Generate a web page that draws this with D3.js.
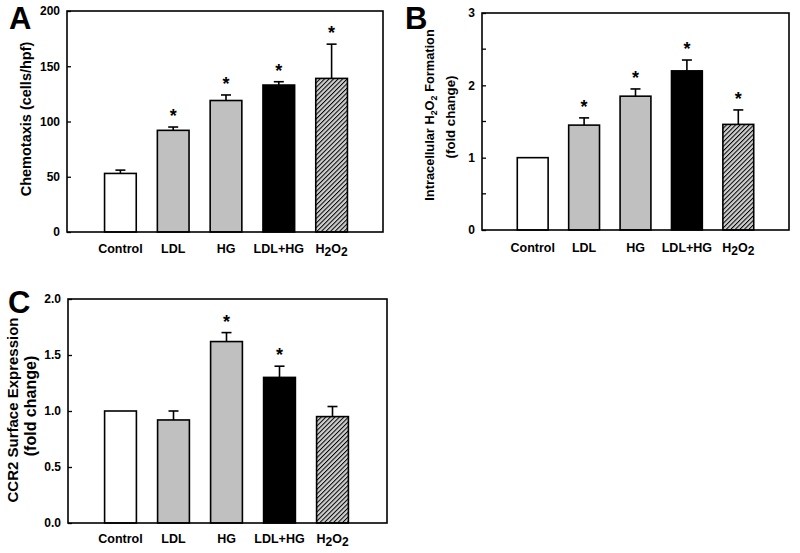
<!DOCTYPE html>
<html>
<head>
<meta charset="utf-8">
<script src="https://cdn.jsdelivr.net/npm/d3@7"></script>
<style>
  body { margin: 0; background: #fff; }
  svg { display: block; font-family: Arial, "Liberation Sans", sans-serif; font-weight: bold; }
</style>
</head>
<body>
<svg id="chart" width="800" height="553"></svg>
<script>
// ---- data ----
const categories = ["Control", "LDL", "HG", "LDL+HG", "H2O2"];
const fills = ["white", "grey", "grey", "black", "hatch"];

const chemotaxisMean = [53, 92, 119, 133, 139];
const chemotaxisErr  = [3, 3, 5, 3, 31];
const chemotaxisSig  = [false, true, true, true, true];
const chemotaxisTicks = [0, 50, 100, 150, 200];

const h2o2Mean = [1.0, 1.45, 1.85, 2.2, 1.46];
const h2o2Err  = [0, 0.10, 0.10, 0.15, 0.20];
const h2o2Sig  = [false, true, true, true, true];
const h2o2Ticks = [0, 1, 2, 3];
const h2o2MinorTicks = [0.5, 1.5, 2.5];

const ccr2Mean = [1.0, 0.92, 1.62, 1.30, 0.95];
const ccr2Err  = [0, 0.08, 0.08, 0.10, 0.09];
const ccr2Sig  = [false, false, true, true, false];
const ccr2Ticks = [0, 0.5, 1.0, 1.5, 2.0];

const svg = d3.select("#chart");
const defs = svg.append("defs");
const pat = defs.append("pattern")
  .attr("id", "hatch").attr("patternUnits", "userSpaceOnUse")
  .attr("width", 3.2).attr("height", 3.2)
  .attr("patternTransform", "rotate(45)");
pat.append("rect").attr("width", 3.2).attr("height", 3.2).attr("fill", "#cfcfcf");
pat.append("line").attr("x1", 0).attr("y1", 0).attr("x2", 0).attr("y2", 3.2)
  .attr("stroke", "#000").attr("stroke-width", 2);

const fillColor = { white: "#ffffff", grey: "#c0c0c0", black: "#000000", hatch: "url(#hatch)" };

function addCatLabel(sel, d) {
  if (d === "H2O2") {
    sel.append("tspan").text("H");
    sel.append("tspan").attr("dy", 3).attr("font-size", "12px").text("2");
    sel.append("tspan").attr("dy", -3).text("O");
    sel.append("tspan").attr("dy", 3).attr("font-size", "12px").text("2");
  } else {
    sel.text(d);
  }
}

function panel(opts) {
  const g = svg.append("g");
  const x = d3.scaleBand().domain(categories)
    .range(opts.bandRange).paddingInner(0.4).paddingOuter(0.2);
  const y = d3.scaleLinear().domain(opts.domain).range([opts.y1, opts.y0]);

  // bars
  g.selectAll("rect.bar").data(categories).join("rect")
    .attr("class", "bar")
    .attr("x", d => x(d))
    .attr("width", x.bandwidth())
    .attr("y", (d, i) => y(opts.mean[i]))
    .attr("height", (d, i) => y(opts.domain[0]) - y(opts.mean[i]))
    .attr("fill", (d, i) => fillColor[fills[i]])
    .attr("stroke", "#000").attr("stroke-width", 1.6);

  // error bars
  categories.forEach((d, i) => {
    if (opts.err[i] <= 0) return;
    const cx = x(d) + x.bandwidth() / 2;
    g.append("line").attr("x1", cx).attr("x2", cx)
      .attr("y1", y(opts.mean[i])).attr("y2", y(opts.mean[i] + opts.err[i]))
      .attr("stroke", "#000").attr("stroke-width", 1.6);
    g.append("line").attr("x1", cx - 5).attr("x2", cx + 5)
      .attr("y1", y(opts.mean[i] + opts.err[i])).attr("y2", y(opts.mean[i] + opts.err[i]))
      .attr("stroke", "#000").attr("stroke-width", 1.6);
  });

  // significance stars
  categories.forEach((d, i) => {
    if (!opts.sig[i]) return;
    const cx = x(d) + x.bandwidth() / 2;
    g.append("text").attr("x", cx).attr("y", y(opts.mean[i] + opts.err[i]) - 5)
      .attr("text-anchor", "middle").attr("font-size", "18px").text("*");
  });

  // frame
  g.append("rect").attr("x", opts.x0).attr("y", opts.y0)
    .attr("width", opts.x1 - opts.x0).attr("height", opts.y1 - opts.y0)
    .attr("fill", "none").attr("stroke", "#000").attr("stroke-width", 1.6);

  // y axis with inward ticks
  const yAxis = d3.axisRight(y).tickValues(opts.ticks).tickSize(4)
    .tickFormat(opts.fmt);
  const ya = g.append("g").attr("transform", `translate(${opts.x0},0)`).call(yAxis);
  ya.select(".domain").remove();
  ya.selectAll(".tick line").attr("stroke", "#000").attr("stroke-width", 1.3);
  ya.selectAll(".tick text").attr("x", -7).attr("text-anchor", "end")
    .attr("font-size", "12px").attr("font-weight", "bold").attr("font-family", "Arial, 'Liberation Sans', sans-serif")
    .attr("fill", "#000");
  if (opts.minor) {
    g.selectAll("line.minor").data(opts.minor).join("line")
      .attr("x1", opts.x0).attr("x2", opts.x0 + 4)
      .attr("y1", d => y(d)).attr("y2", d => y(d))
      .attr("stroke", "#000").attr("stroke-width", 1.3);
  }

  // x category labels
  g.selectAll("text.cat").data(categories).join("text")
    .attr("class", "cat")
    .attr("x", d => x(d) + x.bandwidth() / 2)
    .attr("y", opts.catY)
    .attr("text-anchor", "middle").attr("font-size", "12.5px")
    .each(function (d) { addCatLabel(d3.select(this), d); });

  // y title
  opts.titles.forEach(t => {
    const tx = g.append("text")
      .attr("transform", `translate(${t.x},${t.y}) rotate(-90)`)
      .attr("text-anchor", "middle").attr("dominant-baseline", "middle")
      .attr("font-size", t.size + "px");
    t.parts.forEach(p => {
      const ts = tx.append("tspan").text(p.t);
      if (p.sub) ts.attr("font-size", (t.size * 0.7) + "px").attr("dy", 4);
      if (p.up) ts.attr("dy", -4);
    });
  });

  // panel letter
  svg.append("text").attr("x", opts.letter.x).attr("y", opts.letter.y)
    .attr("font-size", "31px").attr("font-weight", "bold").text(opts.letter.t);
}

panel({
  x0: 67, x1: 383, y0: 11, y1: 232, bandRange: [94, 358],
  domain: [0, 200], ticks: chemotaxisTicks, fmt: d3.format("d"),
  mean: chemotaxisMean, err: chemotaxisErr, sig: chemotaxisSig,
  catY: 253,
  titles: [{ x: 27, y: 119, size: 14.5, parts: [{ t: "Chemotaxis (cells/hpf)" }] }],
  letter: { x: 9, y: 29, t: "A" }
});

panel({
  x0: 482, x1: 789, y0: 13, y1: 230, bandRange: [507, 764],
  domain: [0, 3], ticks: h2o2Ticks, fmt: d3.format("d"), minor: h2o2MinorTicks,
  mean: h2o2Mean, err: h2o2Err, sig: h2o2Sig,
  catY: 252,
  titles: [
    { x: 431, y: 115, size: 12.8, parts: [{ t: "Intracellular H" }, { t: "2", sub: true }, { t: "O", up: true }, { t: "2", sub: true }, { t: " Formation", up: true }] },
    { x: 452, y: 117, size: 13.2, parts: [{ t: "(fold change)" }] }
  ],
  letter: { x: 405, y: 29, t: "B" }
});

panel({
  x0: 68, x1: 387, y0: 299, y1: 523, bandRange: [94, 359],
  domain: [0, 2], ticks: ccr2Ticks, fmt: d3.format(".1f"),
  mean: ccr2Mean, err: ccr2Err, sig: ccr2Sig,
  catY: 543,
  titles: [
    { x: 14, y: 410, size: 15, parts: [{ t: "CCR2 Surface Expression" }] },
    { x: 32, y: 406, size: 16, parts: [{ t: "(fold change)" }] }
  ],
  letter: { x: 8, y: 313, t: "C" }
});
</script>
</body>
</html>
